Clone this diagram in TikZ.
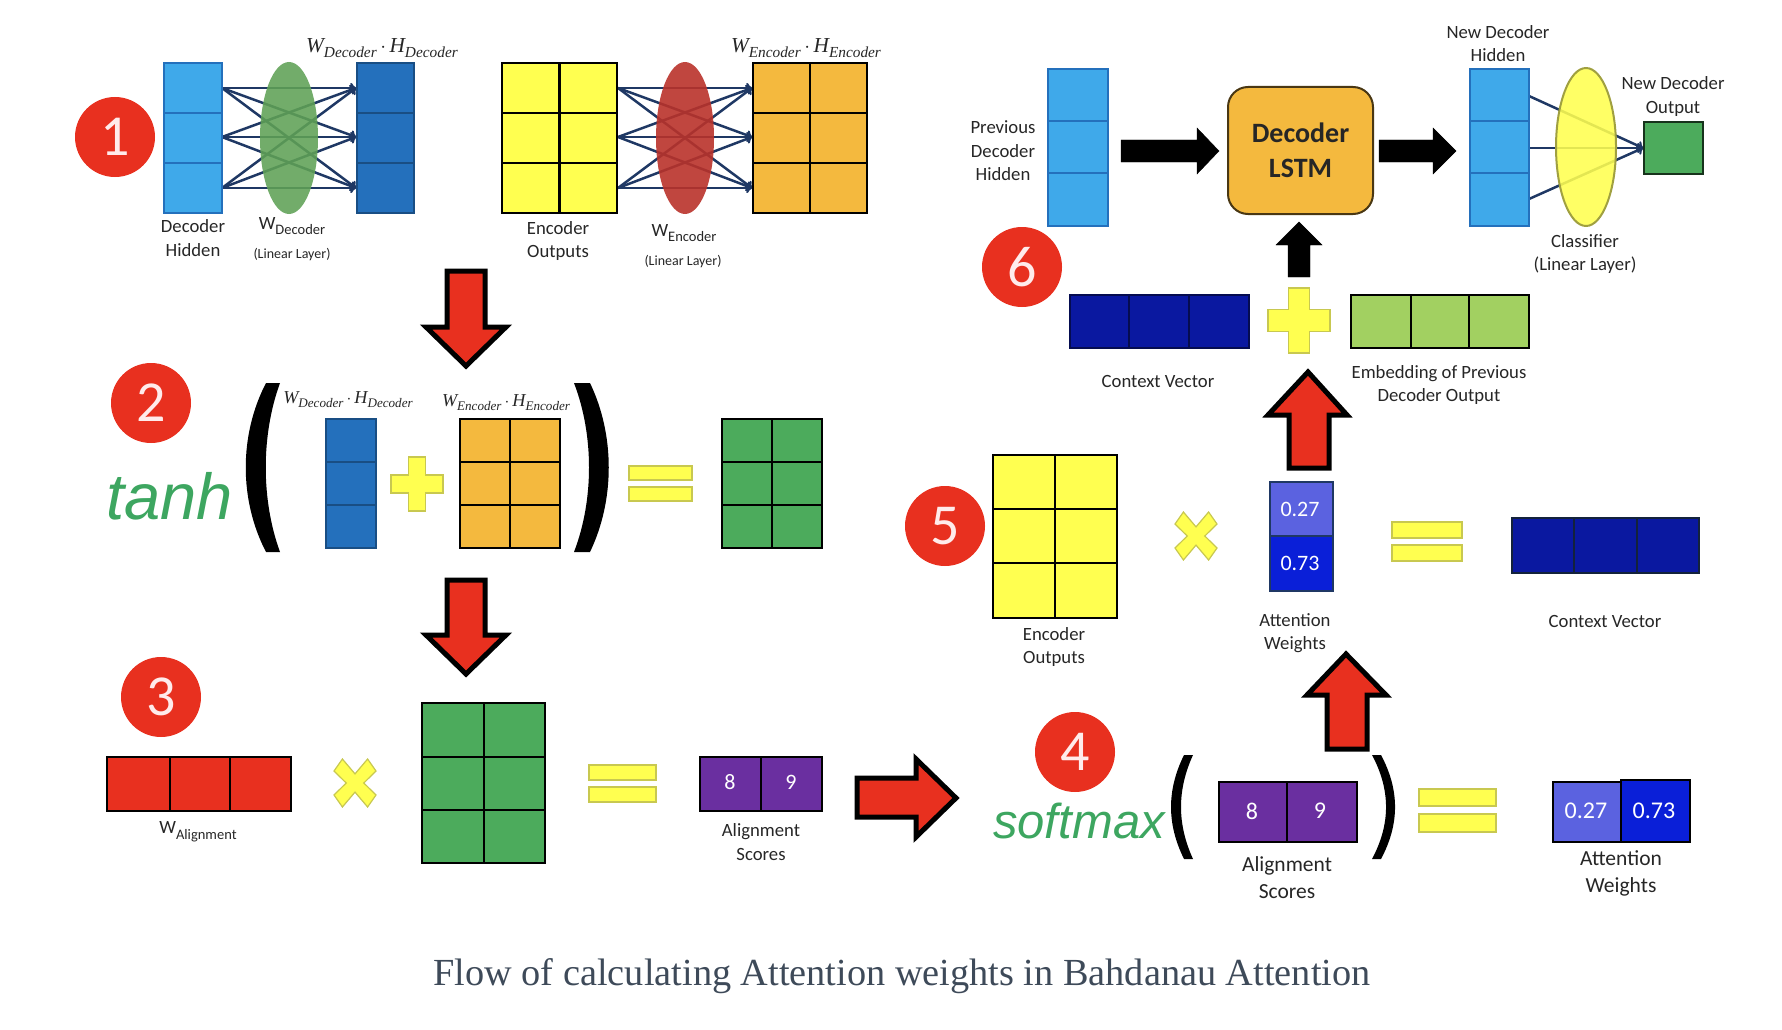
\documentclass[tikz,border=0pt]{standalone}
\usepackage{fontspec}
\setmainfont{Carlito}
\newfontfamily\capfont{Liberation Serif}
\newfontfamily\fnfont{Liberation Sans}
\usepackage{tikz}

\definecolor{skyb}{HTML}{3FA9EA}
\definecolor{deepb}{HTML}{2470BC}
\definecolor{navyb}{HTML}{0A18A0}
\definecolor{lowb}{HTML}{5B62E0}
\definecolor{highb}{HTML}{0A1FD8}
\definecolor{yel}{HTML}{FFFF50}
\definecolor{yelline}{HTML}{C8C850}
\definecolor{oran}{HTML}{F4B93E}
\definecolor{grn}{HTML}{4CAB5C}
\definecolor{limeg}{HTML}{A2D061}
\definecolor{redd}{HTML}{E8301F}
\definecolor{purp}{HTML}{6A2FA0}
\definecolor{linkb}{HTML}{1F3864}
\definecolor{capc}{HTML}{3E4A59}
\definecolor{fnc}{HTML}{3DA660}
\definecolor{leafg}{HTML}{5FA155}
\definecolor{brick}{HTML}{B9322A}

\tikzset{
  gridcells/.style={draw=black, line width=2.7pt, line join=miter},
  softcells/.style={draw=#1, line width=2pt},
  link/.style={draw=linkb, line width=2.5pt, ->},
  redarrow/.style={fill=redd, draw=black, line width=5pt, miter limit=10},
  blackarrow/.style={fill=black},
  yelsign/.style={fill=yel, draw=yelline, line width=1.2pt},
  badge/.style={circle, fill=redd, text=white!92!red, minimum size=80pt, inner sep=0pt,
    font=\fontsize{58}{58}\selectfont},
  lab/.style={align=center, text=black!85, inner sep=0pt, font=\fontsize{18.7}{23.5}\selectfont},
  biglab/.style={align=center, text=black!85, inner sep=0pt, font=\fontsize{21.5}{27}\selectfont},
  tinylab/.style={text=black!85, inner sep=0pt, font=\fontsize{14}{15}\selectfont},
  num/.style={text=white, inner sep=0pt, font=\fontsize{22}{23}\selectfont},
  bignum/.style={text=white, inner sep=0pt, font=\fontsize{24}{25}\selectfont},
  prod/.style={text=black!85, inner sep=0pt, font=\capfont\itshape\fontsize{#1}{#1}\selectfont},
  fname/.style={text=fnc, anchor=base west, inner sep=0pt, font=\fnfont\itshape\fontsize{#1}{#1}\selectfont},
}

% W with a small lowered index, and the product of two of them
\newcommand\Wsub[1]{W\raisebox{-0.3em}{\fontsize{14.5}{15}\selectfont #1}}
\newcommand\Prodsub[1]{W\raisebox{-0.22em}{\scalebox{0.72}{#1}}\,$\cdot$\,H\raisebox{-0.22em}{\scalebox{0.72}{#1}}}
% the plus and times signs: (x,y), half width, half height
\newcommand\PlusSign[4]{\draw[yelsign, shift={(#1,#2)}, xscale=#3, yscale=#4]
  (-0.33,-1) -- (0.33,-1) -- (0.33,-0.33) -- (1,-0.33) -- (1,0.33) -- (0.33,0.33)
  -- (0.33,1) -- (-0.33,1) -- (-0.33,0.33) -- (-1,0.33) -- (-1,-0.33) -- (-0.33,-0.33) -- cycle;}
\newcommand\TimesSign[4]{\draw[yelsign, shift={(#1,#2)}, xscale=#3, yscale=#4]
  (-0.6,-1) -- (0,-0.38) -- (0.6,-1) -- (1,-0.5) -- (0.42,0) -- (1,0.5) -- (0.6,1)
  -- (0,0.38) -- (-0.6,1) -- (-1,0.5) -- (-0.42,0) -- (-1,-0.5) -- cycle;}

\begin{document}
\begin{tikzpicture}[x=1pt, y=-1pt]

\useasboundingbox (0,0) rectangle (1782,1030);

%%% panel 1
\node[badge] (bOne) at (115,137) {1};

\coordinate (dla) at (222,88);
\coordinate (dlb) at (222,137);
\coordinate (dlc) at (222,188);
\coordinate (dra) at (356,88);
\coordinate (drb) at (356,137);
\coordinate (drc) at (356,188);
\coordinate (ela) at (618,88);
\coordinate (elb) at (618,137);
\coordinate (elc) at (618,188);
\coordinate (era) at (752,88);
\coordinate (erb) at (752,137);
\coordinate (erc) at (752,188);

\foreach \a in {dla,dlb,dlc}
  \foreach \b in {dra,drb,drc}
    \draw[link] (\a) -- (\b);
\foreach \a in {ela,elb,elc}
  \foreach \b in {era,erb,erc}
    \draw[link] (\a) -- (\b);

\draw[softcells=deepb, fill=skyb] (164,63) rectangle (222,213) (164,113) -- (222,113) (164,163) -- (222,163);
\fill[fill=leafg, fill opacity=0.88] (289,138) ellipse (29pt and 76pt);
\draw[softcells=deepb!70!black, fill=deepb] (357,63) rectangle (414,213) (357,113) -- (414,113) (357,163) -- (414,163);

\draw[gridcells, fill=yel] (502,63) rectangle (617,213) (559.5,63) -- (559.5,213) (502,113) -- (617,113) (502,163) -- (617,163);
\fill[fill=brick, fill opacity=0.9] (685,138) ellipse (29pt and 76pt);
\draw[gridcells, fill=oran] (753,63) rectangle (867,213) (810,63) -- (810,213) (753,113) -- (867,113) (753,163) -- (867,163);

\node[prod=21.3] (wdec) at (382,48) {\Prodsub{Decoder}};
\node[prod=21.3] (wenc) at (806,48) {\Prodsub{Encoder}};
\node[lab] (lDecHid) at (193,238) {Decoder\\Hidden};
\node[lab] (lWDec) at (292,226) {\Wsub{Decoder}};
\node[tinylab] (lLinA) at (292,255) {(Linear Layer)};
\node[lab] (lEncOut) at (558,241) {Encoder\\Outputs};
\node[lab] (lWEnc) at (684,233) {\Wsub{Encoder}};
\node[tinylab] (lLinB) at (683,262) {(Linear Layer)};

\draw[redarrow] (447,271) -- (485,271) -- (485,327) -- (506,327) -- (466,366) -- (426,327) -- (447,327) -- cycle;

%%% panel 2
\node[badge] (bTwo) at (151,403) {2};
\node[fname=65] (tanh) at (106,519) {tanh};
\fill (266,383) .. controls (239,435) and (239,500) .. (266,552) -- (280,552) .. controls (261,500) and (261,435) .. (280,383) -- cycle;
\fill (590,383) .. controls (615,435) and (615,500) .. (590,552) -- (574,552) .. controls (594,500) and (594,435) .. (574,383) -- cycle;

\node[prod=18.2] (wdecb) at (348,400) {\Prodsub{Decoder}};
\node[prod=18.2] (wencb) at (506,403) {\Prodsub{Encoder}};

\draw[softcells=deepb!70!black, fill=deepb] (326,419) rectangle (376,548) (326,462) -- (376,462) (326,505) -- (376,505);
\PlusSign{417}{484}{26}{27}
\draw[gridcells, line width=2.4pt, fill=oran] (460,419) rectangle (560,548) (510,419) -- (510,548) (460,462) -- (560,462) (460,505) -- (560,505);
\draw[yelsign] (629,466) rectangle (692,480);
\draw[yelsign] (629,487) rectangle (692,501);
\draw[gridcells, line width=2.4pt, fill=grn] (722,419) rectangle (822,548) (772,419) -- (772,548) (722,462) -- (822,462) (722,505) -- (822,505);

\draw[redarrow] (447,580) -- (485,580) -- (485,635) -- (506,635) -- (466,674) -- (426,635) -- (447,635) -- cycle;

%%% panel 3
\node[badge] (bThree) at (161,697) {3};
\draw[gridcells, fill=redd] (107,757) rectangle (291,811) (170,757) -- (170,811) (230,757) -- (230,811);
\node[lab] (lWAli) at (198,832) {\Wsub{Alignment}};
\TimesSign{355}{783}{21}{24}
\draw[gridcells, fill=grn] (422,703) rectangle (545,863) (484,703) -- (484,863) (422,757) -- (545,757) (422,810) -- (545,810);
\draw[yelsign] (589,765) rectangle (656,780);
\draw[yelsign] (589,787) rectangle (656,802);
\draw[gridcells, fill=purp] (700,757) rectangle (822,811) (761,757) -- (761,811);
\node[num] (sEight) at (730,782) {8};
\node[num] (sNine) at (791,782) {9};
\node[lab] (lAliA) at (761,842) {Alignment\\Scores};
\draw[redarrow] (857,778) -- (916,778) -- (916,759) -- (956,798) -- (916,837) -- (916,817) -- (857,817) -- cycle;

%%% panel 4
\node[badge] (bFour) at (1075,752) {4};
\node[fname=49] (softmax) at (993,838) {softmax};
\fill (1184,755) .. controls (1166.7,790) and (1166.7,824) .. (1184,859) -- (1193,859) .. controls (1177,824) and (1177,790) .. (1193,755) -- cycle;
\fill (1381,755) .. controls (1399.7,790) and (1399.7,824) .. (1381,859) -- (1372,859) .. controls (1390.7,824) and (1390.7,790) .. (1372,755) -- cycle;
\draw[gridcells, fill=purp] (1219,782) rectangle (1357,842) (1287,782) -- (1287,842);
\node[bignum] (sEightB) at (1252,811) {8};
\node[bignum] (sNineB) at (1320,811) {9};
\node[biglab] (lAliB) at (1287,878) {Alignment\\Scores};
\draw[yelsign] (1419,789) rectangle (1496,806);
\draw[yelsign] (1419,814) rectangle (1496,832);
\draw[gridcells, fill=lowb] (1553,782) rectangle (1621,842);
\draw[gridcells, fill=highb] (1621,780) rectangle (1690,842);
\node[bignum] (wLow) at (1586,811) {0.27};
\node[bignum] (wHigh) at (1654,811) {0.73};
\node[biglab] (lAttA) at (1621,873) {Attention\\Weights};

\draw[redarrow] (1327,749) -- (1367,749) -- (1367,695) -- (1386,695) -- (1346,654) -- (1307,695) -- (1327,695) -- cycle;

%%% panel 5
\node[badge] (bFive) at (945,526) {5};
\draw[gridcells, fill=yel] (993,455) rectangle (1117,618) (1055,455) -- (1055,618) (993,509) -- (1117,509) (993,563) -- (1117,563);
\node[lab] (lEncOutB) at (1054,647) {Encoder\\Outputs};
\TimesSign{1196}{536}{21}{24}
\draw[softcells=linkb, line width=2.6pt, fill=lowb] (1270,482) rectangle (1333,536);
\draw[softcells=linkb, line width=2.6pt, fill=highb] (1270,536) rectangle (1333,591);
\node[num] (cLow) at (1300,509) {0.27};
\node[num] (cHigh) at (1300,563) {0.73};
\node[lab] (lAttB) at (1295,633) {Attention\\Weights};
\draw[yelsign] (1392,522) rectangle (1462,538);
\draw[yelsign] (1392,545) rectangle (1462,561);
\draw[softcells=linkb!60!black, line width=2.6pt, fill=navyb] (1512,518) rectangle (1699,573) (1574,518) -- (1574,573) (1637,518) -- (1637,573);
\node[lab] (lCtxA) at (1605,621) {Context Vector};

\draw[redarrow] (1289,468) -- (1329,468) -- (1329,415) -- (1347,415) -- (1308,372) -- (1268,415) -- (1289,415) -- cycle;

%%% panel 6
\node[badge] (bSix) at (1022,267) {6};
\draw[softcells=deepb, fill=skyb] (1048,69) rectangle (1108,226) (1048,121) -- (1108,121) (1048,173) -- (1108,173);
\node[lab] (lPrev) at (1003,151) {Previous\\Decoder\\Hidden};
\draw[blackarrow] (1121,140) -- (1197,140) -- (1197,128) -- (1219,151) -- (1197,174) -- (1197,162) -- (1121,162) -- cycle;
\node[rounded corners=20pt, draw=black!70!oran, line width=2pt, fill=oran, align=center, minimum width=145pt, minimum height=127pt,
  inner sep=0pt, text=black!85, font=\bfseries\fontsize{28}{34.5}\selectfont] (lstm) at (1300.5,150.5) {Decoder\\LSTM};
\draw[blackarrow] (1379,140) -- (1433,140) -- (1433,128) -- (1456,151) -- (1433,174) -- (1433,162) -- (1379,162) -- cycle;
\draw[blackarrow] (1288,277) -- (1310,277) -- (1310,245) -- (1322,245) -- (1299,222) -- (1276,245) -- (1288,245) -- cycle;

\coordinate (nla) at (1529,96);
\coordinate (nlb) at (1529,148);
\coordinate (nlc) at (1529,199);
\coordinate (nr) at (1643,148);
\foreach \a in {nla,nlb,nlc}
  \draw[link] (\a) -- (nr);

\draw[softcells=deepb, fill=skyb] (1470,69) rectangle (1529,226) (1470,121) -- (1529,121) (1470,173) -- (1529,173);
\draw[fill=yel, fill opacity=0.88, draw=yelline!80!black, line width=2pt] (1586,147) ellipse (30pt and 79pt);
\draw[gridcells, line width=2.2pt, draw=black!70!grn, fill=grn] (1644,122) rectangle (1703,174);

\node[lab] (lNewHid) at (1498,43.5) {New Decoder\\Hidden};
\node[lab] (lNewOut) at (1673,96.5) {New Decoder\\Output};
\node[lab] (lClass) at (1585,254) {Classifier\\(Linear Layer)};

\draw[gridcells, line width=2.2pt, draw=navyb!50!black, fill=navyb] (1070,295) rectangle (1249,348) (1129,295) -- (1129,348) (1189,295) -- (1189,348);
\PlusSign{1299}{320.5}{31}{32.5}
\draw[gridcells, line width=2.2pt, fill=limeg] (1351,295) rectangle (1529,348) (1411,295) -- (1411,348) (1469,295) -- (1469,348);
\node[lab] (lCtxB) at (1158,381) {Context Vector};
\node[lab] (lEmb) at (1439,385) {Embedding of Previous\\Decoder Output};

\node[text=capc, inner sep=0pt, anchor=base, font=\capfont\fontsize{38.3}{42}\selectfont] (cap) at (902,985) {Flow of calculating Attention weights in Bahdanau Attention};

\end{tikzpicture}
\end{document}
